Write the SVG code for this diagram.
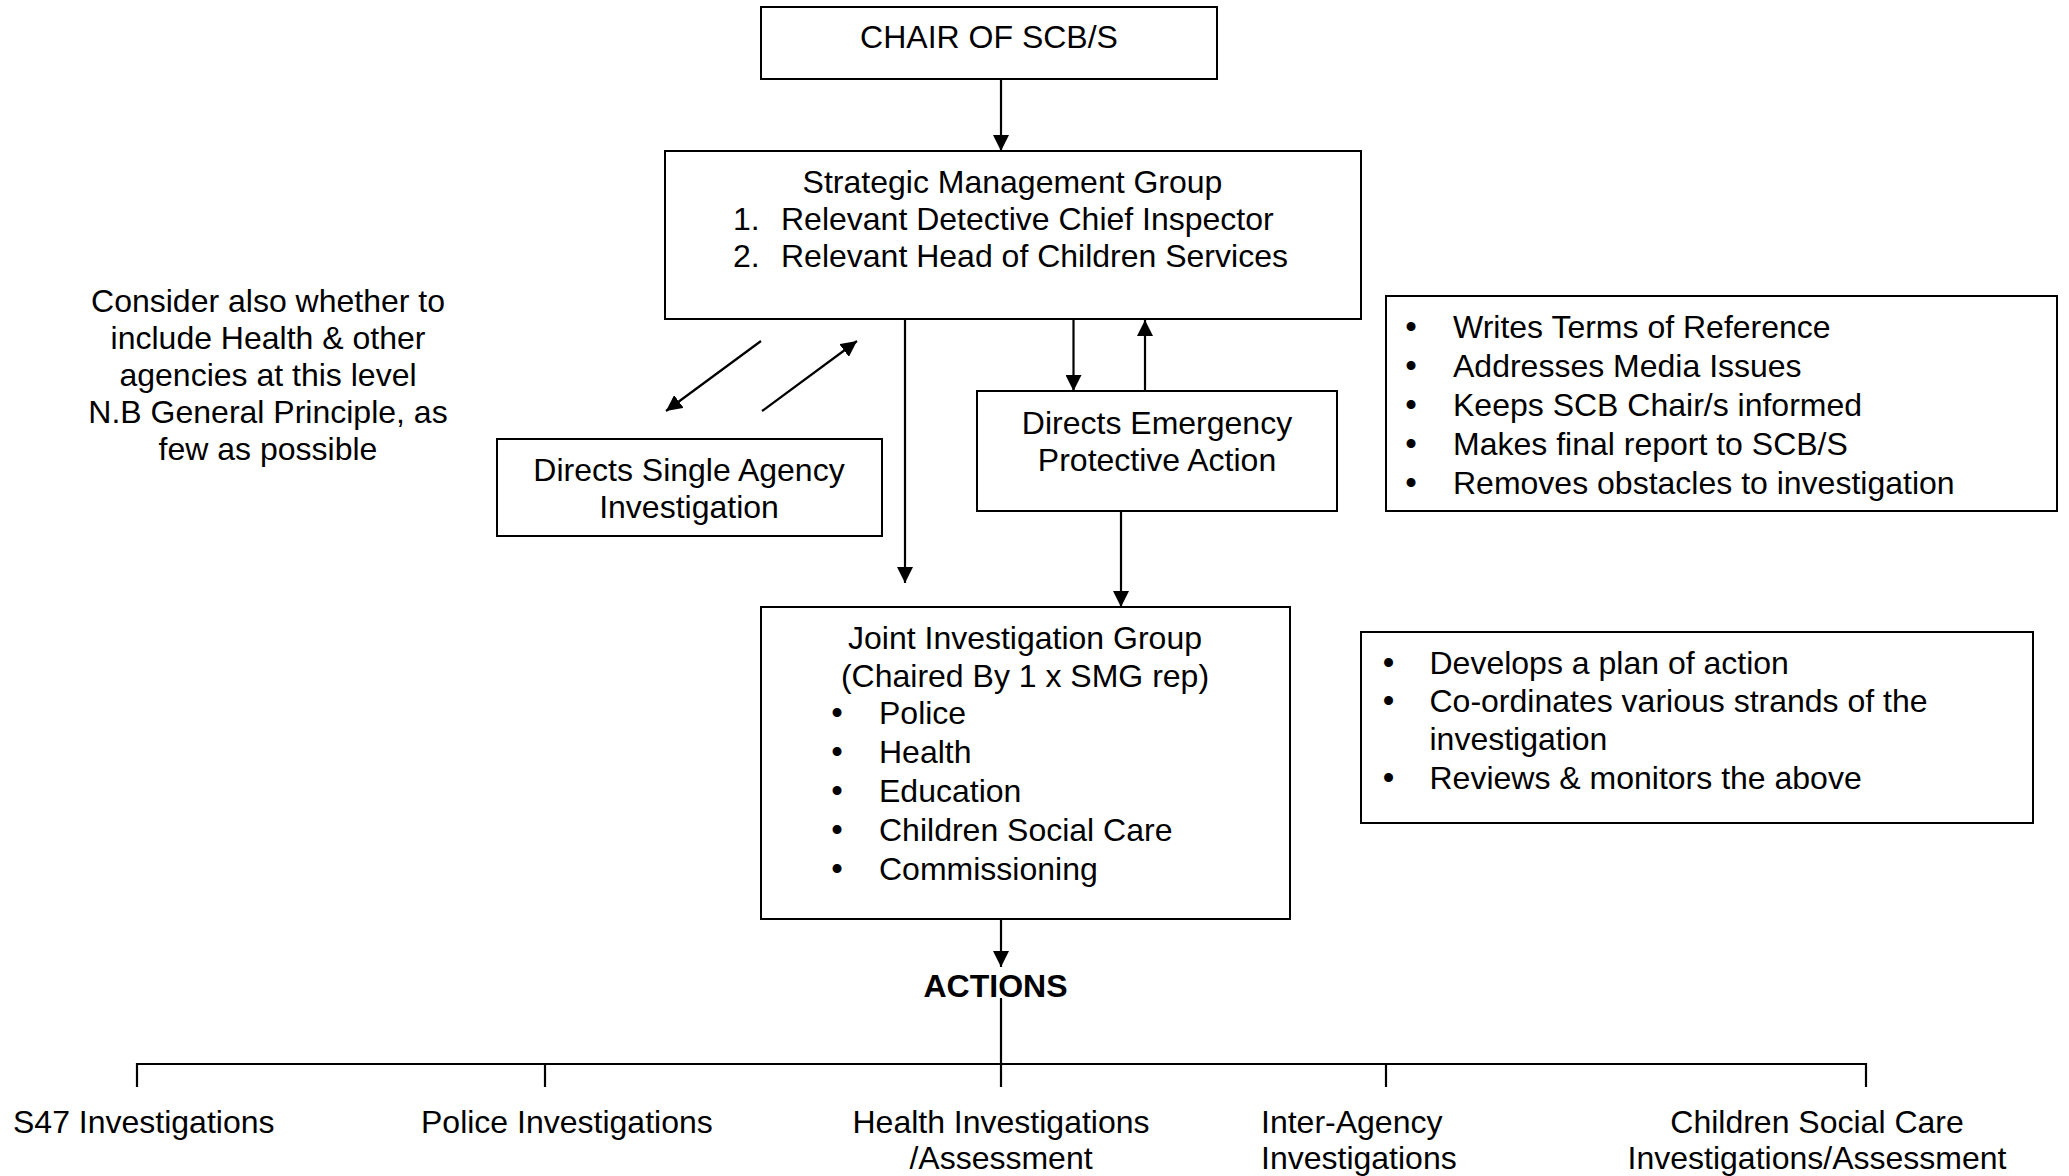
<svg xmlns="http://www.w3.org/2000/svg" width="2069" height="1176" viewBox="0 0 2069 1176">
<style>
text{font-family:"Liberation Sans",Arial,sans-serif;font-size:32px;fill:#000}
.c{text-anchor:middle}
.b{font-weight:bold}
.bu{font-size:33px;text-anchor:middle}
.box{fill:#fff;stroke:#000;stroke-width:2}
.ln{fill:none;stroke:#000;stroke-width:2.2}
.ar{marker-end:url(#ah)}
</style>
<defs>
<marker id="ah" markerUnits="userSpaceOnUse" markerWidth="17" markerHeight="16" refX="16" refY="8" orient="auto">
<path d="M0,0 L16,8 L0,16 z" fill="#000"/>
</marker>
</defs>
<rect width="2069" height="1176" fill="#fff"/>

<g id="connectors">
<line class="ln ar" x1="1001" y1="79" x2="1001" y2="151"/>
<line class="ln ar" x1="761" y1="341" x2="666" y2="411"/>
<line class="ln ar" x1="762" y1="411" x2="857" y2="341"/>
<line class="ln ar" x1="905" y1="320" x2="905" y2="583"/>
<line class="ln ar" x1="1073.5" y1="320" x2="1073.5" y2="391"/>
<line class="ln ar" x1="1145" y1="391" x2="1145" y2="320"/>
<line class="ln ar" x1="1121" y1="511" x2="1121" y2="607"/>
<line class="ln ar" x1="1001" y1="919" x2="1001" y2="967"/>
<line class="ln" x1="1001" y1="998" x2="1001" y2="1087"/>
<line class="ln" x1="137" y1="1064" x2="1866" y2="1064"/>
<line class="ln" x1="137" y1="1063" x2="137" y2="1087"/>
<line class="ln" x1="545" y1="1064" x2="545" y2="1087"/>
<line class="ln" x1="1386" y1="1064" x2="1386" y2="1087"/>
<line class="ln" x1="1866" y1="1063" x2="1866" y2="1087"/>
</g>

<g id="chair">
<rect class="box" x="761" y="7" width="456" height="72"/>
<text class="c" x="989" y="48">CHAIR OF SCB/S</text>
</g>

<g id="smg">
<rect class="box" x="665" y="151" width="696" height="168"/>
<text class="c" x="1012.5" y="193">Strategic Management Group</text>
<text x="733" y="230">1.<tspan x="781">Relevant Detective Chief Inspector</tspan></text>
<text x="733" y="267">2.<tspan x="781">Relevant Head of Children Services</tspan></text>
</g>

<g id="consider">
<text class="c" x="268" y="311.5">Consider also whether to</text>
<text class="c" x="268" y="348.5">include Health &amp; other</text>
<text class="c" x="268" y="385.5">agencies at this level</text>
<text class="c" x="268" y="422.5">N.B General Principle, as</text>
<text class="c" x="268" y="459.5">few as possible</text>
</g>

<g id="single-agency">
<rect class="box" x="497" y="439" width="385" height="97"/>
<text class="c" x="689" y="481">Directs Single Agency</text>
<text class="c" x="689" y="518">Investigation</text>
</g>

<g id="emergency">
<rect class="box" x="977" y="391" width="360" height="120"/>
<text class="c" x="1157" y="434">Directs Emergency</text>
<text class="c" x="1157" y="470.5">Protective Action</text>
</g>

<g id="smg-duties">
<rect class="box" x="1386" y="296" width="671" height="215"/>
<text><tspan class="bu" x="1411" y="338">•</tspan><tspan x="1453" y="338">Writes Terms of Reference</tspan></text>
<text><tspan class="bu" x="1411" y="377">•</tspan><tspan x="1453" y="377">Addresses Media Issues</tspan></text>
<text><tspan class="bu" x="1411" y="416">•</tspan><tspan x="1453" y="416">Keeps SCB Chair/s informed</tspan></text>
<text><tspan class="bu" x="1411" y="455">•</tspan><tspan x="1453" y="455">Makes final report to SCB/S</tspan></text>
<text><tspan class="bu" x="1411" y="494">•</tspan><tspan x="1453" y="494">Removes obstacles to investigation</tspan></text>
</g>

<g id="jig">
<rect class="box" x="761" y="607" width="529" height="312"/>
<text class="c" x="1025" y="649">Joint Investigation Group</text>
<text class="c" x="1025" y="687">(Chaired By 1 x SMG rep)</text>
<text><tspan class="bu" x="837" y="724">•</tspan><tspan x="879" y="724">Police</tspan></text>
<text><tspan class="bu" x="837" y="763">•</tspan><tspan x="879" y="763">Health</tspan></text>
<text><tspan class="bu" x="837" y="802">•</tspan><tspan x="879" y="802">Education</tspan></text>
<text><tspan class="bu" x="837" y="841">•</tspan><tspan x="879" y="841">Children Social Care</tspan></text>
<text><tspan class="bu" x="837" y="880">•</tspan><tspan x="879" y="880">Commissioning</tspan></text>
</g>

<g id="jig-duties">
<rect class="box" x="1361" y="632" width="672" height="191"/>
<text><tspan class="bu" x="1388.5" y="674">•</tspan><tspan x="1429.5" y="674">Develops a plan of action</tspan></text>
<text><tspan class="bu" x="1388.5" y="712">•</tspan><tspan x="1429.5" y="712">Co-ordinates various strands of the</tspan><tspan x="1429.5" y="750">investigation</tspan></text>
<text><tspan class="bu" x="1388.5" y="789">•</tspan><tspan x="1429.5" y="789">Reviews &amp; monitors the above</tspan></text>
</g>

<g id="actions">
<text class="c b" x="995.5" y="996.5">ACTIONS</text>
</g>

<g id="s47"><text x="13" y="1133">S47 Investigations</text></g>
<g id="police"><text x="421" y="1133">Police Investigations</text></g>
<g id="health">
<text class="c" x="1001" y="1133">Health Investigations</text>
<text class="c" x="1001" y="1169">/Assessment</text>
</g>
<g id="inter-agency">
<text x="1261" y="1133">Inter-Agency</text>
<text x="1261" y="1169">Investigations</text>
</g>
<g id="csc">
<text class="c" x="1817" y="1133">Children Social Care</text>
<text class="c" x="1817" y="1169">Investigations/Assessment</text>
</g>
</svg>
